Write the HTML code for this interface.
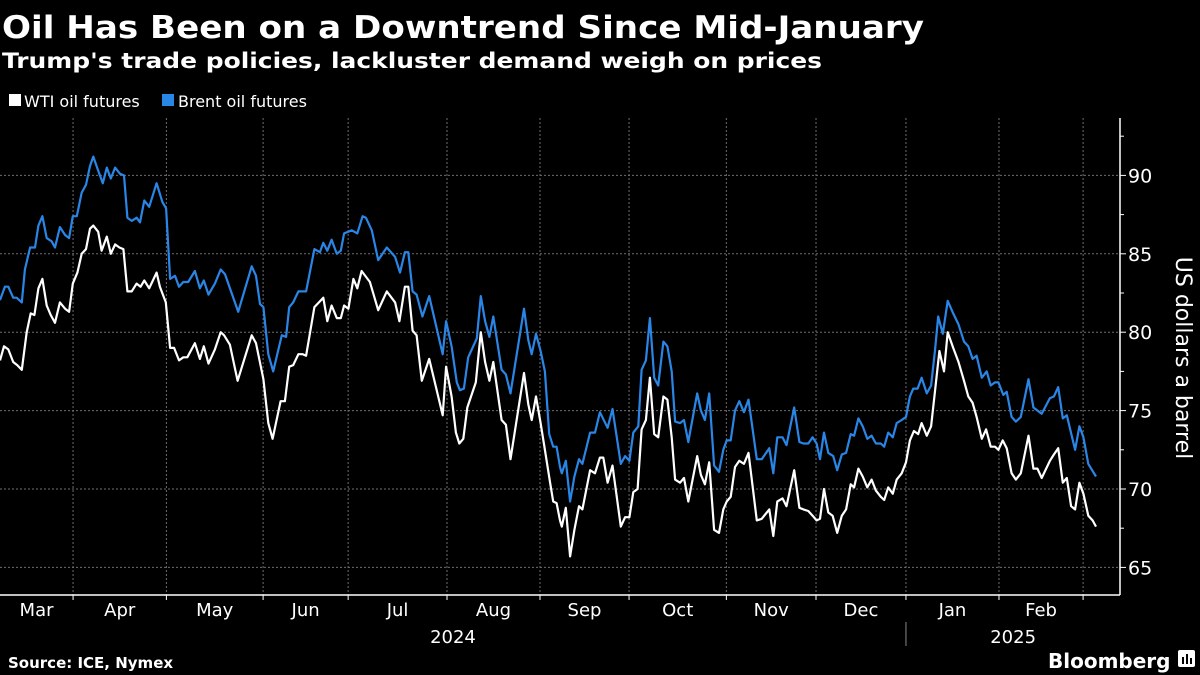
<!DOCTYPE html>
<html><head><meta charset="utf-8">
<style>
html,body{margin:0;padding:0;background:#000;}
svg{display:block;font-family:"DejaVu Sans","Liberation Sans",sans-serif;}
</style></head>
<body>
<svg id="chart" width="1200" height="675" viewBox="0 0 1200 675" xmlns="http://www.w3.org/2000/svg">
<rect x="0" y="0" width="1200" height="675" fill="#000"/>
<text x="2" y="38" fill="#fff" font-size="31" font-weight="bold" textLength="922" lengthAdjust="spacingAndGlyphs">Oil Has Been on a Downtrend Since Mid-January</text>
<text x="2" y="68" fill="#fff" font-size="21" font-weight="bold" textLength="820" lengthAdjust="spacingAndGlyphs">Trump's trade policies, lackluster demand weigh on prices</text>
<g>
  <g>
    <rect x="9" y="94" width="12" height="12" fill="#fff"/>
    <text x="24" y="107" fill="#fff" font-size="16">WTI oil futures</text>
  </g>
  <g>
    <rect x="162" y="94" width="12" height="12" fill="#2a86e6"/>
    <text x="178" y="107" fill="#fff" font-size="16">Brent oil futures</text>
  </g>
</g>
<g id="grid"></g>
<g id="axes"></g>
<g id="series"></g>
<text transform="translate(1176,358) rotate(90)" text-anchor="middle" fill="#fff" font-size="22">US dollars a barrel</text>
<text x="8" y="668" fill="#fff" font-size="15" font-weight="bold">Source: ICE, Nymex</text>
<g>
  <text x="1048" y="668" fill="#fff" font-size="20" font-weight="bold">Bloomberg</text>
  <rect x="1178" y="650" width="17" height="17" rx="2" fill="#fff"/>
  <rect x="1182" y="657" width="2" height="7" fill="#000"/>
  <rect x="1186" y="654" width="2" height="10" fill="#000"/>
  <rect x="1190" y="658" width="2" height="6" fill="#000"/>
</g>
</svg>
<script>
// ---- data (day position since start, price) ----
const brentDays = [0,1.6,2.7,4.3,5.4,7.1,8.1,9.8,11.4,12.5,13.8,15.2,16.8,17.9,19.5,21.2,22.5,23.7,25,26.6,28,29.3,30.4,32,33.5,34.8,36.1,37.5,39.1,40.4,41.5,42.9,44.5,45.6,47,48.6,51,52.9,54.1,55.4,57,58.3,59.7,61.3,63.5,65.1,66.4,67.9,70,71.9,73.3,77.6,82,83.4,84.7,85.8,87.4,89,91.8,93.2,94.2,95.5,97.2,99.7,102.4,104.2,105.3,106.6,108,109.7,111,112.1,114.6,116.4,118.1,119.2,121.1,123.2,126,128.7,130.3,131.9,133,134.4,135.7,137.6,139.8,144.2,145.3,147.1,148.8,149.8,151.1,152.5,155.3,156.6,158,159.4,160.7,163.4,164.8,166.3,170.7,172.1,173.2,174.6,176.1,177.5,178.9,180.2,181.3,182.4,183,184.3,185.7,187.1,188.6,189.7,192.2,193.8,195.4,197.9,199.5,202.2,203.6,205,206.3,207.9,209,210.4,211.7,213.1,214.4,216.1,217.4,218.8,219.9,221.5,222.8,224.2,227.1,228.3,229.6,231,232.6,234.2,235.6,236.7,238,239.4,240.8,242.3,243.8,246.5,248.1,250.6,251.9,253.2,254.9,256.2,258.7,260.4,261.7,263.3,264.7,266,267.1,268.4,269.8,271.4,272.7,274.2,275.6,277.1,278.2,279.6,281,282.5,283.9,285.3,286.9,288,289.3,290.8,292.1,293.7,295.1,296.4,297.5,298.9,300.2,301.9,303.3,304.6,305.6,307.1,308.7,310.5,312.2,314,315.4,316.8,318.1,319.8,321.4,322.7,324.1,325.2,326.8,327.9,329.5,330.9,332.5,335,336.6,339.3,342,343.3,344.7,346.2,347.5,350.2,351.6,352.9,354.5,357];
const brentValues = [82.05,82.9,82.9,82.2,82.2,81.9,84.0,85.4,85.4,86.8,87.4,86.0,85.8,85.4,86.7,86.2,86.0,87.4,87.4,88.9,89.4,90.6,91.2,90.3,89.5,90.5,89.8,90.5,90.1,90.0,87.3,87.1,87.3,87.0,88.4,88.0,89.5,88.3,87.9,83.4,83.6,82.9,83.2,83.2,83.9,82.8,83.3,82.4,83.1,84.0,83.7,81.3,84.2,83.6,81.8,81.6,78.6,77.5,79.8,79.7,81.6,81.9,82.6,82.6,85.3,85.1,85.7,85.2,85.9,85.0,85.2,86.3,86.5,86.3,87.4,87.3,86.5,84.6,85.4,84.8,83.8,85.1,85.1,82.6,82.4,81.0,82.3,78.6,80.7,79.1,76.8,76.3,76.4,78.4,79.6,82.3,80.7,79.7,81.0,77.6,77.3,76.1,81.5,79.5,78.6,79.9,78.8,77.5,73.5,72.7,72.7,71.4,71.0,71.8,69.2,70.8,71.9,71.6,73.6,73.6,74.9,73.9,75.1,71.6,72.1,71.8,73.6,74.0,77.6,78.2,80.9,77.1,76.6,79.4,79.1,77.5,74.3,74.2,74.4,73.0,76.1,75.0,74.4,76.1,71.5,71.1,72.5,73.1,73.1,75.0,75.6,74.9,75.7,71.9,71.9,72.6,71.0,73.3,73.3,72.8,75.2,73.0,72.9,72.9,73.3,72.9,71.9,73.6,72.3,72.1,71.2,72.2,72.3,73.5,73.4,74.5,74.0,73.2,73.4,72.9,72.9,72.7,73.6,73.3,74.2,74.4,74.6,75.9,76.4,76.4,77.1,76.1,76.6,78.9,81.0,79.9,82.0,81.2,80.5,79.4,79.1,78.3,78.5,77.1,77.5,76.6,76.8,76.8,76.0,76.2,74.6,74.3,74.6,77.0,75.2,74.8,75.8,75.9,76.5,74.5,74.7,72.5,74.0,73.3,71.6,70.8];
const wtiDays = [0,1.3,2.7,4.3,5.6,7.1,8.7,10,11.2,12.5,13.8,15.2,16.5,17.9,19.5,21.2,22.5,23.7,25.2,26.6,28,29.3,30.4,32,33.1,34.8,36.1,37.5,38.9,40.2,41.5,42.9,44.5,45.8,47,48.6,51,52.1,54,55.4,56.7,58.3,59.7,61,63.5,65.1,66.4,67.9,70,71.9,73,74.9,77.4,82,83.4,85.8,87.4,88.8,91.4,92.8,94.2,95.5,97.2,98.6,99.7,102.4,105.3,106.6,108,109.7,111,112.1,113.5,115.1,116.4,117.8,120.5,123.2,126,128.7,130.1,131.9,133,134.4,135.7,137.4,139.8,144.2,145.3,147.1,148.5,149.6,150.9,152.2,155,156.6,158,159.4,160.7,163.4,164.8,166.3,170.7,172.1,173.2,174.6,176.1,177.5,179.2,180.2,181.3,182.4,183,184.3,185.7,187.1,188.6,189.7,192.2,193.8,195.4,196.5,197.9,199.5,202.2,203.6,205,206.3,207.7,209,210.4,211.7,213.1,214.4,216.1,217.4,218.8,219.9,221.5,222.8,224.2,227.1,228.3,229.6,231,232.6,234.2,235.6,236.7,238,239.4,240.8,242.3,243.8,246.5,248.1,250.6,251.9,253.2,254.9,256.2,258.7,260.4,261.7,263.3,264.7,266,267.1,268.4,269.8,271.2,272.7,274.2,275.6,277.1,278.2,279.6,281,282.5,283.9,285.3,286.9,288,289.3,290.8,292.1,293.7,295.1,296.4,297.7,299.1,300.2,301.9,303.3,304.6,306,307.5,308.7,310.5,312.2,314,315.4,316.8,318.1,319.8,321.2,322.7,324.1,325.2,326.6,327.9,329.5,330.9,332.5,335,336.6,337.9,339.3,342,343.3,344.7,346.2,347.5,348.9,350.2,351.6,352.9,354.5,355.9,357];
const wtiValues = [78.2,79.1,78.9,78.1,77.9,77.6,80.0,81.2,81.1,82.8,83.4,81.7,81.1,80.6,81.9,81.5,81.3,83.1,83.8,85.0,85.3,86.6,86.8,86.4,85.2,86.1,85.0,85.6,85.4,85.3,82.6,82.6,83.1,82.9,83.3,82.8,83.8,82.9,81.9,79.0,79.0,78.2,78.4,78.4,79.3,78.3,79.1,78.0,78.9,80.0,79.8,79.2,76.9,79.8,79.3,77.0,74.2,73.2,75.6,75.6,77.8,77.9,78.6,78.6,78.5,81.6,82.2,80.7,81.7,80.9,80.9,81.7,81.5,83.4,82.8,83.9,83.2,81.4,82.6,81.9,80.7,82.9,82.9,80.1,79.8,76.9,78.3,74.7,77.8,75.9,73.6,72.9,73.2,75.2,76.8,80.0,78.1,76.9,78.1,74.4,74.1,71.9,77.4,75.4,74.4,75.9,74.2,72.5,70.4,69.2,69.1,68.0,67.6,68.8,65.7,67.4,68.9,68.7,71.2,71.0,72.0,72.0,70.4,71.5,67.6,68.2,68.2,69.8,70.0,73.8,74.4,77.1,73.5,73.3,75.9,75.7,73.3,70.6,70.4,70.7,69.2,72.1,70.9,70.3,71.7,67.4,67.2,68.7,69.2,69.5,71.4,71.8,71.6,72.3,68.0,68.1,68.7,67.0,69.2,69.4,68.9,71.2,68.8,68.7,68.6,68.3,68.0,68.1,70.0,68.5,68.3,67.2,68.3,68.7,70.3,70.1,71.3,70.8,70.1,70.6,69.9,69.5,69.3,70.1,69.7,70.6,71.0,71.7,73.1,73.7,73.5,74.2,73.4,74.0,76.3,78.8,77.5,80.0,79.0,78.1,76.9,75.9,75.5,74.6,73.2,73.8,72.7,72.7,72.5,73.1,72.6,71.0,70.6,71.0,73.4,71.3,71.3,70.7,71.8,72.2,72.6,70.4,70.7,68.9,68.7,70.4,69.7,68.3,68.0,67.6];
const monthLabels = ["Mar","Apr","May","Jun","Jul","Aug","Sep","Oct","Nov","Dec","Jan","Feb"];
const monthStartDays = [23.8,54.2,85.7,113.4,145.6,175.9,204.9,236.6,265.8,295.1,325.4,352.8];
const yearLabels = ["2024","2025"];
const yTicks = [65,70,75,80,85,90];
const yMinorTicks = [67.5,72.5,77.5,82.5,87.5,92.5];

// ---- scales ----
const NS = "http://www.w3.org/2000/svg";
const plotLeft = 0, plotRight = 1120, plotTop = 118, plotBottom = 595;
function xScale(d){ return plotLeft + d * 3.07; }
function yScale(v){ return 175.4 + (90 - v) * 15.68; }
function mk(tag, attrs, parent){
  const el = document.createElementNS(NS, tag);
  for (const k in attrs) el.setAttribute(k, attrs[k]);
  parent.appendChild(el);
  return el;
}
const grid = document.getElementById('grid');
const axes = document.getElementById('axes');
const series = document.getElementById('series');

// horizontal gridlines + y ticks
yTicks.forEach(v => {
  const y = yScale(v);
  const g = mk('line', {x1: plotLeft, x2: plotRight, y1: y, y2: y, stroke: '#6e6e6e', 'stroke-width': 1, 'stroke-dasharray': '2,2'}, grid);
  
  
  const t = mk('line', {x1: plotRight, x2: plotRight + 6, y1: y, y2: y, stroke: '#fff', 'stroke-width': 1}, axes);
  
  
  const lbl = mk('text', {x: plotRight + 8, y: y + 7, fill: '#fff', 'font-size': 19}, axes);
  lbl.textContent = v;
  
  
});
yMinorTicks.forEach(v => {
  const y = yScale(v);
  const t = mk('line', {x1: plotRight, x2: plotRight + 4, y1: y, y2: y, stroke: '#fff', 'stroke-width': 1}, axes);
  
  
});

// vertical gridlines, x ticks, month labels
const bounds = [0].concat(monthStartDays);
monthStartDays.forEach(d => {
  const x = xScale(d);
  const g = mk('line', {x1: x, x2: x, y1: plotTop, y2: plotBottom, stroke: '#6e6e6e', 'stroke-width': 1, 'stroke-dasharray': '2,2'}, grid);
  
  
  const t = mk('line', {x1: x, x2: x, y1: plotBottom, y2: plotBottom + 5, stroke: '#fff', 'stroke-width': 1}, axes);
  
  
});
monthLabels.forEach((m, i) => {
  const cx = (xScale(bounds[i]) + xScale(bounds[i + 1])) / 2;
  const lbl = mk('text', {x: cx, y: 616, fill: '#fff', 'font-size': 18, 'text-anchor': 'middle'}, axes);
  lbl.textContent = m;
  
  
});
// year labels
const janX = xScale(monthStartDays[9]);
const y1 = mk('text', {x: (xScale(0) + janX) / 2, y: 643, fill: '#fff', 'font-size': 18, 'text-anchor': 'middle'}, axes);
y1.textContent = yearLabels[0];


const y2 = mk('text', {x: (janX + xScale(monthStartDays[11] + 3)) / 2 + 14, y: 643, fill: '#fff', 'font-size': 18, 'text-anchor': 'middle'}, axes);
y2.textContent = yearLabels[1];


const sep = mk('line', {x1: janX, x2: janX, y1: 622, y2: 646, stroke: '#888', 'stroke-width': 1}, axes);



// axis lines
const xa = mk('line', {x1: plotLeft, x2: plotRight, y1: plotBottom, y2: plotBottom, stroke: '#fff', 'stroke-width': 1.5}, axes);


const ya = mk('line', {x1: plotRight, x2: plotRight, y1: plotTop, y2: plotBottom, stroke: '#fff', 'stroke-width': 1.5}, axes);



// series lines
function pathFor(days, vals){
  return days.map((d, i) => (i ? 'L' : 'M') + xScale(d).toFixed(1) + ',' + yScale(vals[i]).toFixed(1)).join('');
}
const brent = mk('path', {d: pathFor(brentDays, brentValues), fill: 'none', stroke: '#2a86e6', 'stroke-width': 2.2, 'stroke-linejoin': 'round'}, series);


const wti = mk('path', {d: pathFor(wtiDays, wtiValues), fill: 'none', stroke: '#ffffff', 'stroke-width': 2.2, 'stroke-linejoin': 'round'}, series);


</script>
</body></html>
